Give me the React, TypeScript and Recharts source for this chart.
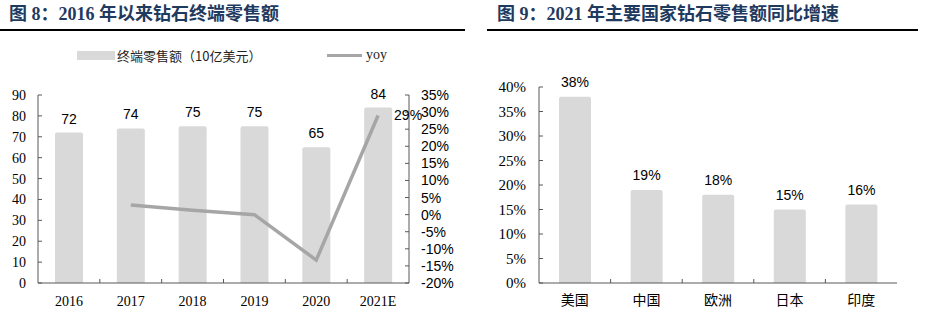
import {
  Bar,
  BarChart,
  ComposedChart,
  LabelList,
  Legend,
  Line,
  XAxis,
  YAxis,
} from 'recharts';

// 图 8 数据
const years = ['2016', '2017', '2018', '2019', '2020', '2021E'];
const retailSales = [72, 74, 75, 75, 65, 84];
const yoyGrowth = [null, 2.8, 1.3, 0, -13.3, 29];
const salesTicks = [0, 10, 20, 30, 40, 50, 60, 70, 80, 90];
const yoyTicks = [-20, -15, -10, -5, 0, 5, 10, 15, 20, 25, 30, 35];

// 图 9 数据
const countries = ['美国', '中国', '欧洲', '日本', '印度'];
const countryGrowth = [38, 19, 18, 15, 16];
const growthTicks = [0, 5, 10, 15, 20, 25, 30, 35, 40];

const salesData = years.map((year, i) => ({
  year,
  sales: retailSales[i],
  yoy: yoyGrowth[i],
}));

const countryData = countries.map((name, i) => ({
  name,
  growth: countryGrowth[i],
}));

const SERIF = '"Liberation Serif", "Times New Roman", serif';
const SANS = '"Liberation Sans", Arial, sans-serif';
const CJK = '"Noto Sans CJK SC", sans-serif';
const AXIS = '#595959';
const BAR = '#d9d9d9';
const LINE = '#a6a6a6';

function LeftTick(props: any) {
  const { x, y, payload, suffix = '', margin = 12, fontSize = 14 } = props;
  return (
    <g>
      <line x1={x + margin} x2={x + margin + 4} y1={y} y2={y} stroke={AXIS} />
      <text
        x={x}
        y={y}
        dy="0.355em"
        textAnchor="end"
        fontSize={fontSize}
        fontFamily={SERIF}
        fill="#000"
      >
        {`${payload.value}${suffix}`}
      </text>
    </g>
  );
}

function RightTick(props: any) {
  const { x, y, payload } = props;
  return (
    <g>
      <line x1={x - 12} x2={x - 16} y1={y} y2={y} stroke={AXIS} />
      <text
        x={x}
        y={y}
        dy="0.355em"
        textAnchor="start"
        fontSize={14}
        fontFamily={SANS}
        fill="#000"
      >
        {`${payload.value}%`}
      </text>
    </g>
  );
}

function BottomTick(props: any) {
  const { x, y, payload, index, count, margin = 13, font = SERIF } = props;
  const half = payload?.offset ?? 30;
  const axisY = y - margin;
  return (
    <g>
      {index < count - 1 && (
        <line
          x1={x + half}
          x2={x + half}
          y1={axisY}
          y2={axisY - 4}
          stroke={AXIS}
        />
      )}
      <text
        x={x}
        y={y}
        dy="0.71em"
        textAnchor="middle"
        fontSize={14}
        fontFamily={font}
        fill="#000"
      >
        {payload.value}
      </text>
    </g>
  );
}

function YoyLabel(props: any) {
  const { x, y, value, index } = props;
  if (index !== years.length - 1) return null;
  return (
    <text
      x={x + 16}
      y={y}
      dy="0.355em"
      fontSize={14}
      fontFamily={SANS}
      fill="#000"
    >
      {`${value}%`}
    </text>
  );
}

function SalesLegend() {
  return (
    <div style={{ position: 'relative', width: 465, height: 16 }}>
      <div
        style={{
          position: 'absolute',
          left: 77,
          top: 3,
          width: 38,
          height: 9,
          background: BAR,
        }}
      />
      <span
        style={{
          position: 'absolute',
          left: 117,
          top: 0,
          fontSize: 13,
          lineHeight: '16px',
          fontFamily: CJK,
          color: '#222',
          whiteSpace: 'nowrap',
        }}
      >
        终端零售额（10亿美元）
      </span>
      <div
        style={{
          position: 'absolute',
          left: 327,
          top: 6,
          width: 35,
          height: 3,
          background: LINE,
        }}
      />
      <span
        style={{
          position: 'absolute',
          left: 366,
          top: -1,
          fontSize: 14,
          lineHeight: '16px',
          fontFamily: SERIF,
          color: '#222',
        }}
      >
        yoy
      </span>
    </div>
  );
}

const titleStyle: React.CSSProperties = {
  position: 'absolute',
  top: 5,
  fontSize: 18,
  lineHeight: '18px',
  fontWeight: 'bold',
  fontFamily: `${SERIF.split(',')[0]}, ${CJK}`,
  color: '#1f3a5f',
  whiteSpace: 'nowrap',
};

export default function App() {
  return (
    <div
      style={{
        position: 'absolute',
        left: 0,
        top: 0,
        width: 930,
        height: 331,
        background: '#fff',
      }}
    >
      <div style={{ ...titleStyle, left: 9 }}>图 8：2016 年以来钻石终端零售额</div>
      <div
        style={{
          position: 'absolute',
          left: 0,
          top: 29,
          width: 465,
          height: 2,
          background: '#000',
        }}
      />
      <div style={{ ...titleStyle, left: 497 }}>
        图 9：2021 年主要国家钻石零售额同比增速
      </div>
      <div
        style={{
          position: 'absolute',
          left: 487,
          top: 29,
          width: 431,
          height: 2,
          background: '#000',
        }}
      />

      <div style={{ position: 'absolute', left: 0, top: 40 }}>
        <ComposedChart
          width={465}
          height={280}
          data={salesData}
          margin={{ top: 39, right: 0, bottom: 0, left: 0 }}
          barCategoryGap={0}
        >
          <Legend
            verticalAlign="top"
            content={<SalesLegend />}
            wrapperStyle={{ top: 8, left: 0 }}
          />
          <XAxis
            dataKey="year"
            height={37}
            stroke={AXIS}
            tickLine={false}
            tickSize={0}
            tickMargin={13}
            interval={0}
            tick={(p: any) => <BottomTick {...p} count={years.length} />}
          />
          <YAxis
            yAxisId="left"
            width={38}
            domain={[0, 90]}
            ticks={salesTicks}
            stroke={AXIS}
            tickLine={false}
            tickSize={0}
            tickMargin={12}
            interval={0}
            tick={(p: any) => <LeftTick {...p} />}
          />
          <YAxis
            yAxisId="right"
            orientation="right"
            width={56}
            domain={[-20, 35]}
            ticks={yoyTicks}
            stroke={AXIS}
            tickLine={false}
            tickSize={0}
            tickMargin={12}
            interval={0}
            tick={(p: any) => <RightTick {...p} />}
          />
          <Bar
            yAxisId="left"
            dataKey="sales"
            fill={BAR}
            barSize={28}
            radius={[2, 2, 0, 0]}
            isAnimationActive={false}
          >
            <LabelList
              dataKey="sales"
              position="top"
              offset={9}
              fill="#000"
              fontSize={14}
              fontFamily={SANS}
            />
          </Bar>
          <Line
            yAxisId="right"
            dataKey="yoy"
            type="linear"
            stroke={LINE}
            strokeWidth={3.5}
            dot={false}
            activeDot={false}
            isAnimationActive={false}
          >
            <LabelList dataKey="yoy" content={(p: any) => <YoyLabel {...p} />} />
          </Line>
        </ComposedChart>
      </div>

      <div style={{ position: 'absolute', left: 465, top: 40 }}>
        <BarChart
          width={465}
          height={280}
          data={countryData}
          margin={{ top: 47, right: 33, bottom: 0, left: 0 }}
        >
          <XAxis
            dataKey="name"
            height={37}
            stroke={AXIS}
            tickLine={false}
            tickSize={0}
            tickMargin={12}
            interval={0}
            tick={(p: any) => (
              <BottomTick {...p} count={countries.length} font={CJK} margin={12} />
            )}
          />
          <YAxis
            width={74}
            domain={[0, 40]}
            ticks={growthTicks}
            stroke={AXIS}
            tickLine={false}
            tickSize={0}
            tickMargin={13}
            interval={0}
            tick={(p: any) => <LeftTick {...p} suffix="%" margin={13} fontSize={15} />}
          />
          <Bar
            dataKey="growth"
            fill={BAR}
            barSize={32}
            radius={[2, 2, 0, 0]}
            isAnimationActive={false}
          >
            <LabelList
              dataKey="growth"
              position="top"
              offset={10}
              fill="#000"
              fontSize={14}
              fontFamily={SANS}
              formatter={(v: any) => `${v}%`}
            />
          </Bar>
        </BarChart>
      </div>
    </div>
  );
}
